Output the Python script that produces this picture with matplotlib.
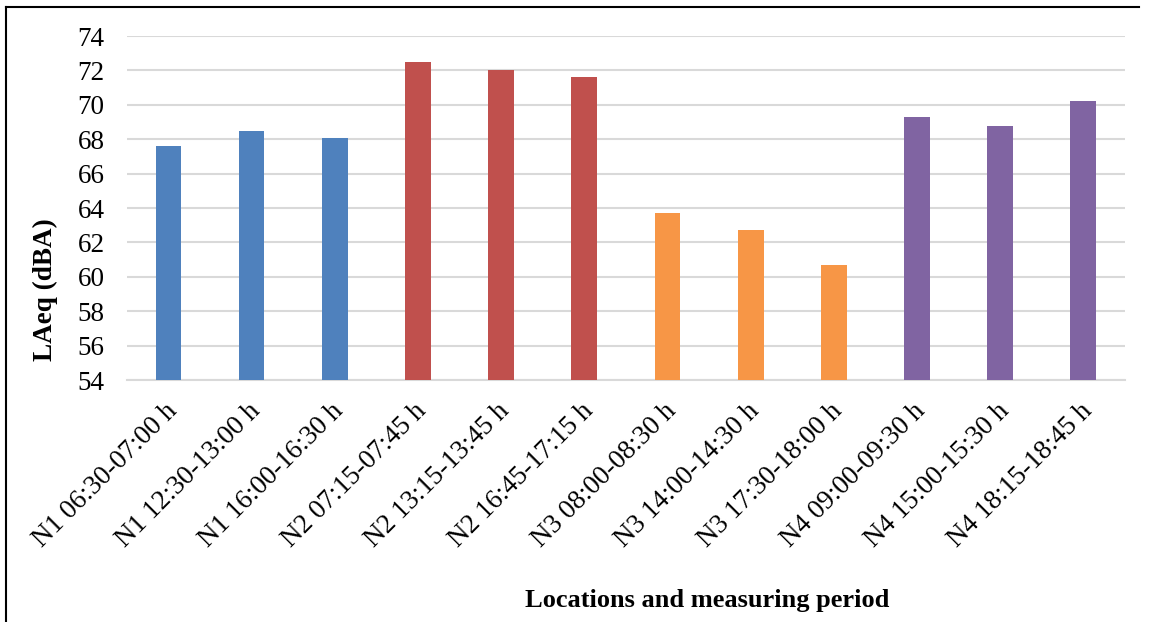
import matplotlib
matplotlib.use("Agg")
import numpy as np
from matplotlib import pyplot as plt
from matplotlib.lines import Line2D
from matplotlib.transforms import ScaledTranslation

periods = [
    "N1 06:30-07:00 h", "N1 12:30-13:00 h", "N1 16:00-16:30 h",
    "N2 07:15-07:45 h", "N2 13:15-13:45 h", "N2 16:45-17:15 h",
    "N3 08:00-08:30 h", "N3 14:00-14:30 h", "N3 17:30-18:00 h",
    "N4 09:00-09:30 h", "N4 15:00-15:30 h", "N4 18:15-18:45 h",
]
laeq = [67.6, 68.5, 68.1, 72.5, 72.0, 71.6, 63.7, 62.7, 60.7, 69.3, 68.8, 70.2]
location_colors = ["#4F81BD"] * 3 + ["#C0504D"] * 3 + ["#F79646"] * 3 + ["#8064A2"] * 3

plt.rcParams["font.family"] = ["Liberation Serif", "DejaVu Serif"]

fig = plt.figure(figsize=(11.53, 6.22), dpi=100)
ax = fig.add_axes([0.110, 0.389, 0.8657, 0.553])

x = np.arange(len(periods))
ax.bar(x, laeq, width=0.31, color=location_colors, zorder=3)

ax.set_ylim(54, 74)
ax.set_xlim(-0.5, len(periods) - 0.5)
ax.set_yticks(np.arange(54, 75, 2))
ax.tick_params(axis="y", length=0, pad=16, labelsize=19.5)
ax.tick_params(axis="x", length=0, pad=13, labelsize=19.5)
ax.set_xticks(x)
ax.set_xticklabels(periods, rotation=45, ha="right", va="top", rotation_mode="anchor")
shift = ScaledTranslation(-4 / 100, 0, fig.dpi_scale_trans)
for lbl in ax.get_xticklabels():
    lbl.set_transform(lbl.get_transform() + shift)

ax.grid(axis="y", color="#D9D9D9", linewidth=1.5, zorder=0)
for side in ["top", "right", "left"]:
    ax.spines[side].set_visible(False)
ax.spines["bottom"].set_color("#D9D9D9")
ax.spines["bottom"].set_linewidth(1.5)

fig.text(0.039, 0.535, "LAeq (dBA)", fontsize=19.5, fontweight="bold",
         rotation=90, ha="center", va="center")
fig.text(0.613, 0.035, "Locations and measuring period", fontsize=19,
         fontweight="bold", ha="center", va="center")

# outer frame (top and left edges)
fig.add_artist(Line2D([0.0052, 0.0052], [0.0, 0.989], color="black", linewidth=1.5,
                      transform=fig.transFigure))
fig.add_artist(Line2D([0.0052, 0.988], [0.989, 0.989], color="black", linewidth=1.5,
                      transform=fig.transFigure))

fig.savefig("out.png", dpi=100)
